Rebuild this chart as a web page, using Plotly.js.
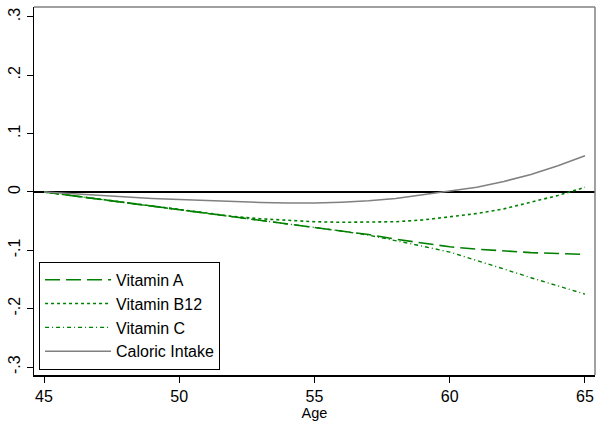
<!DOCTYPE html>
<html>
<head>
<meta charset="utf-8">
<script src="https://cdn.plot.ly/plotly-3.0.1.min.js"></script>
<style>
  html, body { margin: 0; padding: 0; background: #fff; }
  #chart { width: 597px; height: 421px; }
</style>
</head>
<body>
<div id="chart"></div>
<script>
// Age grid
const age = [45, 46, 47, 48, 49, 50, 51, 52, 53, 54, 55, 56, 57, 58, 59, 60, 61, 62, 63, 64, 65];

// Estimated effects by age
const vitaminA = [0, -0.006, -0.012, -0.018, -0.024, -0.030, -0.036, -0.042, -0.048, -0.054, -0.061,
  -0.067, -0.073, -0.081, -0.088, -0.094, -0.098, -0.101, -0.104, -0.1055, -0.107];
const vitaminB12 = [0, -0.006, -0.012, -0.018, -0.024, -0.030, -0.036, -0.042, -0.046, -0.049, -0.051,
  -0.052, -0.052, -0.051, -0.048, -0.043, -0.037, -0.029, -0.018, -0.006, 0.008];
const vitaminC = [0, -0.006, -0.012, -0.018, -0.024, -0.030, -0.036, -0.042, -0.048, -0.054, -0.061,
  -0.067, -0.074, -0.083, -0.093, -0.103, -0.117, -0.132, -0.147, -0.161, -0.175];
const caloric = [0, -0.003, -0.006, -0.009, -0.011, -0.013, -0.015, -0.017, -0.018, -0.019, -0.019,
  -0.0175, -0.015, -0.011, -0.005, 0.001, 0.008, 0.018, 0.030, 0.045, 0.062];

const seriesNames = ['Vitamin A', 'Vitamin B12', 'Vitamin C', 'Caloric Intake'];

// Axis ticks
const xTicks = [45, 50, 55, 60, 65];
const yTicks = [-0.3, -0.2, -0.1, 0, 0.1, 0.2, 0.3];
const yTickText = ['-.3', '-.2', '-.1', '0', '.1', '.2', '.3'];

const green = 'rgb(0,128,0)';
const grey = 'rgb(128,128,128)';

const traces = [
  { x: age, y: vitaminA, name: seriesNames[0], mode: 'lines',
    line: { color: green, width: 1.6, dash: '15px,6px' } },
  { x: age, y: vitaminB12, name: seriesNames[1], mode: 'lines',
    line: { color: green, width: 1.6, dash: '3px,3px' } },
  { x: age, y: vitaminC, name: seriesNames[2], mode: 'lines',
    line: { color: green, width: 1.4, dash: '4px,3px,1px,3px' } },
  { x: age, y: caloric, name: seriesNames[3], mode: 'lines',
    line: { color: grey, width: 1.5 } }
];

const font = { family: 'Arial, "Liberation Sans", sans-serif', color: '#000' };

const layout = {
  width: 597, height: 421,
  margin: { l: 34, r: 2, t: 7, b: 46 },
  paper_bgcolor: '#fff', plot_bgcolor: '#fff',
  font: Object.assign({ size: 16 }, font),
  showlegend: true,
  legend: {
    x: 0.009, y: 0.014, xanchor: 'left', yanchor: 'bottom',
    bordercolor: '#000', borderwidth: 1, bgcolor: '#fff',
    font: Object.assign({ size: 16 }, font),
    itemwidth: 66, tracegroupgap: 0, entrywidth: 190, entrywidthmode: 'pixels'
  },
  xaxis: {
    range: [44.63, 65.37], tickvals: xTicks, ticks: 'outside', ticklen: 6,
    tickcolor: '#000', tickwidth: 1, showgrid: false, zeroline: false,
    showline: true, linecolor: '#000', linewidth: 1.5,
    tickfont: Object.assign({ size: 16 }, font),
    title: { text: 'Age', font: Object.assign({ size: 14.5 }, font), standoff: 2 }
  },
  yaxis: {
    range: [-0.3137, 0.317], tickvals: yTicks, ticktext: yTickText,
    ticks: 'outside', ticklen: 6, tickcolor: '#000', tickwidth: 1,
    tickangle: -90, showgrid: false,
    zeroline: true, zerolinecolor: '#000', zerolinewidth: 1.5,
    showline: true, linecolor: '#000', linewidth: 1.5,
    tickfont: Object.assign({ size: 16 }, font)
  },
  shapes: [
    { type: 'line', xref: 'paper', yref: 'paper', x0: 0, x1: 1, y0: 1, y1: 1,
      line: { color: grey, width: 1.5 } },
    { type: 'line', xref: 'paper', yref: 'paper', x0: 1, x1: 1, y0: 0, y1: 1,
      line: { color: grey, width: 1.5 } }
  ]
};

Plotly.newPlot('chart', traces, layout, { displayModeBar: false, staticPlot: true });
</script>
</body>
</html>
